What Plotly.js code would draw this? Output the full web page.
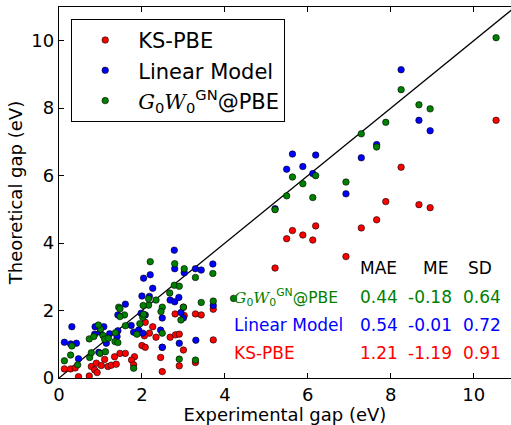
<!DOCTYPE html>
<html>
<head>
<meta charset="utf-8">
<script src="https://cdn.plot.ly/plotly-3.0.1.min.js"></script>
<style>html,body{margin:0;padding:0;background:#fff;}#chart{width:511px;height:425px;}</style>
</head>
<body>
<div id="chart"></div>
<script>
// KS-PBE
var redX = [0.13,0.28,0.39,0.47,0.73,0.78,0.90,0.86,0.92,1.02,1.18,1.10,1.26,1.38,1.34,1.47,1.60,1.82,1.75,1.80,
  2.26,2.08,2.34,2.18,2.06,2.00,2.08,2.49,2.45,2.49,2.68,2.81,2.90,3.00,3.72,2.90,3.29,3.29,3.43,3.02,2.80,3.00,3.72,
  5.21,5.49,5.63,5.88,6.12,6.19,6.92,7.29,7.66,7.88,8.25,8.68,8.95,10.54];
var redY = [0.27,0.27,0.30,0.04,0.06,0.34,0.44,0.24,0.16,0.37,0.34,0.55,0.38,0.41,0.63,0.73,0.73,0.63,0.53,0.39,
  1.52,1.65,1.21,1.33,1.25,0.96,0.91,0.91,0.61,0.19,1.21,1.28,1.30,0.83,1.13,0.36,0.46,1.90,1.87,1.85,1.90,2.10,2.04,
  3.26,4.13,4.37,4.24,4.09,4.51,3.60,4.45,4.69,5.23,6.25,5.14,5.05,7.64];
// Linear Model
var blueX = [0.13,0.28,0.42,0.31,0.47,0.87,1.08,0.86,0.99,1.22,1.42,0.96,1.14,1.40,1.42,1.60,1.74,1.80,1.92,2.02,1.98,2.00,2.18,2.04,2.20,2.26,2.08,2.45,2.49,2.49,2.68,2.79,2.89,2.78,2.79,3.02,3.29,3.43,3.71,3.72,2.94,3.00,2.90,3.30,
  5.21,5.49,5.63,5.88,6.12,6.19,6.92,7.29,7.66,8.25,8.68,8.95];
var blueY = [1.06,1.01,1.03,1.52,0.57,1.52,1.52,1.30,1.36,1.31,1.40,0.76,1.03,1.23,1.87,2.19,1.56,1.36,1.42,1.33,1.92,2.43,2.42,2.96,3.06,2.66,1.87,1.42,1.78,0.91,2.31,2.26,2.39,3.79,3.24,3.12,3.24,3.20,3.38,2.15,1.94,1.78,1.03,1.12,
  5.02,6.19,6.64,6.27,6.06,6.61,5.46,6.53,6.92,9.14,7.64,7.33];
// G0W0GN@PBE
var greenX = [0.13,0.28,0.31,0.45,0.74,0.78,0.99,1.12,0.73,0.84,1.06,1.00,0.95,1.10,1.19,1.35,1.42,1.36,1.60,1.88,1.44,1.58,1.47,1.47,2.02,1.95,2.04,2.16,2.03,2.34,2.16,2.20,2.49,2.49,2.46,2.67,2.78,2.90,2.79,3.02,3.29,3.71,3.43,3.72,3.00,2.94,2.90,3.29,1.80,4.21,
  5.21,5.49,5.63,5.88,6.12,6.19,6.92,7.29,7.66,7.88,8.25,8.68,8.95,10.54];
var greenY = [0.51,0.68,0.95,0.39,0.61,0.75,0.73,0.78,1.16,1.23,1.26,1.45,1.57,1.15,1.18,1.08,1.05,1.34,1.55,1.30,2.10,1.87,2.05,1.82,1.80,1.61,1.89,2.16,2.15,2.31,2.35,3.45,1.33,2.10,1.97,2.52,2.75,2.72,3.39,3.24,2.98,3.10,2.24,2.28,2.10,1.72,0.56,0.53,0.29,2.36,
  4.99,5.40,5.96,5.76,5.35,6.00,5.81,7.24,6.85,7.58,8.55,8.10,7.98,10.09];
var diagX = [0, 11];
var diagY = [0, 11];

var gwLabel = '<i style="font-family:\'DejaVu Serif\'">G</i><sub>0</sub><i style="font-family:\'DejaVu Serif\'">W</i><sub>0</sub><sup>GN</sup>@PBE';
var seriesNames = ['KS-PBE', 'Linear Model', gwLabel];
var tableHeader = ['MAE', 'ME', 'SD'];
var tableRows = [
  {label: gwLabel, vals: ['0.44', '-0.18', '0.64'], color: '#008000', size: 15.5},
  {label: 'Linear Model', vals: ['0.54', '-0.01', '0.72'], color: '#0000ff', size: 17},
  {label: 'KS-PBE', vals: ['1.21', '-1.19', '0.91'], color: '#ff0000', size: 17}
];

function mk(x, y, name, color) {
  return {x: x, y: y, name: name, type: 'scatter', mode: 'markers', cliponaxis: true,
    marker: {color: color, size: 6.5, line: {color: '#000', width: 0.6}}};
}
var traces = [
  {x: diagX, y: diagY, type: 'scatter', mode: 'lines', line: {color: '#000', width: 1.3}, showlegend: false, hoverinfo: 'skip'},
  mk(redX, redY, seriesNames[0], '#ff0000'),
  mk(blueX, blueY, seriesNames[1], '#0000ff'),
  mk(greenX, greenY, seriesNames[2], '#008000')
];

var F = 'DejaVu Sans, sans-serif';
var TS = 17;
var ann = [];
var headX = [7.70, 9.07, 10.16];
var valX = [7.72, 8.95, 10.20];
var headY = 3.26, rowYs = [2.40, 1.57, 0.74];
tableHeader.forEach(function (h, i) {
  ann.push({x: headX[i], y: headY, xref: 'x', yref: 'y', text: h, showarrow: false,
    font: {family: F, size: TS, color: '#000'}, xanchor: 'center', yanchor: 'middle'});
});
tableRows.forEach(function (r, j) {
  ann.push({x: 4.18, y: rowYs[j], xref: 'x', yref: 'y', text: r.label, showarrow: false,
    font: {family: F, size: r.size, color: r.color}, xanchor: 'left', yanchor: 'middle'});
  r.vals.forEach(function (v, k) {
    ann.push({x: valX[k], y: rowYs[j], xref: 'x', yref: 'y', text: v, showarrow: false,
      font: {family: F, size: TS, color: r.color}, xanchor: 'center', yanchor: 'middle'});
  });
});

var layout = {
  width: 511, height: 425,
  margin: {l: 59, r: 0, t: 7, b: 47, pad: 0},
  paper_bgcolor: '#fff', plot_bgcolor: '#fff',
  font: {family: F, size: 18, color: '#000'},
  showlegend: true,
  legend: {x: 0.027, y: 0.968, xanchor: 'left', yanchor: 'top', bordercolor: '#000', borderwidth: 1,
    bgcolor: '#fff', font: {family: F, size: 21}, itemwidth: 56, tracegroupgap: 0},
  xaxis: {range: [0, 10.9], tickvals: [0, 2, 4, 6, 8, 10], ticks: 'inside', ticklen: 5, tickcolor: '#000',
    showline: true, linecolor: '#000', linewidth: 1.3, mirror: 'allticks', showgrid: false, zeroline: false,
    tickfont: {family: F, size: 18}, title: {text: 'Experimental gap (eV)', font: {family: F, size: 18}, standoff: 2}},
  yaxis: {range: [0, 11], tickvals: [0, 2, 4, 6, 8, 10], ticks: 'inside', ticklen: 5, tickcolor: '#000',
    showline: true, linecolor: '#000', linewidth: 1.3, mirror: false, showgrid: false, zeroline: false,
    tickfont: {family: F, size: 18}, title: {text: 'Theoretical gap (eV)', font: {family: F, size: 18}, standoff: 4}},
  annotations: ann
};
Plotly.newPlot('chart', traces, layout, {displayModeBar: false, staticPlot: true});
</script>
</body>
</html>
